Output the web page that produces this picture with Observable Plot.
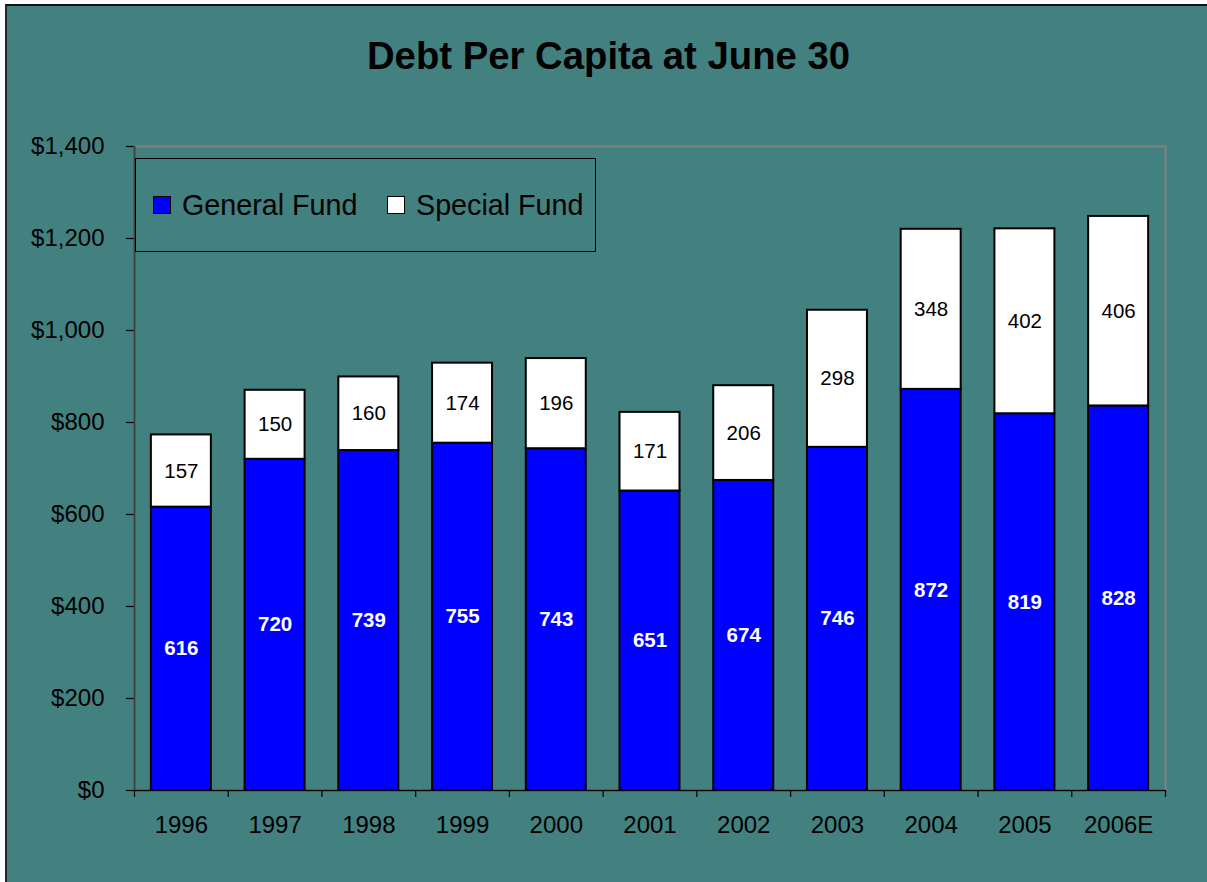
<!DOCTYPE html>
<html>
<head>
<meta charset="utf-8">
<script src="https://cdn.jsdelivr.net/npm/d3@7"></script>
<script src="https://cdn.jsdelivr.net/npm/@observablehq/plot@0.6"></script>
<style>
  html, body { margin: 0; padding: 0; background: #ffffff; }
  #wrap { position: relative; width: 1207px; height: 882px; overflow: hidden; font-family: "Liberation Sans", Arial, sans-serif; }
  #bg { position: absolute; left: 5px; top: 4px; width: 1210px; height: 876px; background: #438080;
        border-left: 2px solid #1e2a2a; border-top: 2px solid #111; border-bottom: 1px solid #6a7a7a; }
  #title { position: absolute; left: 0; width: 1217px; top: 37px; line-height: 1; text-align: center; font-weight: bold; font-size: 38.3px; color: #000; }
  #chart { position: absolute; left: 0; top: 0; }
  #legend { position: absolute; left: 135px; top: 158px; width: 461px; height: 94px; border: 1px solid #000; box-sizing: border-box; }
  .item { position: absolute; top: 0; height: 92px; font-size: 28.7px; color: #000; display: flex; align-items: center; }
  .sw { width: 16px; height: 16px; border: 1.5px solid #000; margin-right: 11px; }
</style>
</head>
<body>
<div id="wrap">
  <div id="bg"></div>
  <div id="chart"></div>
  <div id="title">Debt Per Capita at June 30</div>
  <div id="legend"></div>
</div>
<script>
const years = ["1996","1997","1998","1999","2000","2001","2002","2003","2004","2005","2006E"];
// bar heights as drawn
const generalFund = [616, 720, 739, 755, 743, 651, 674, 746, 872, 819, 836];
const specialFund = [157, 150, 160, 174, 196, 171, 206, 298, 348, 402, 412];
// value labels as printed
const generalLabels = ["616","720","739","755","743","651","674","746","872","819","828"];
const specialLabels = ["157","150","160","174","196","171","206","298","348","402","406"];
const seriesNames = ["General Fund", "Special Fund"];
const seriesColors = ["#0000ff", "#ffffff"];
const yTicks = [0, 200, 400, 600, 800, 1000, 1200, 1400];

const data = [];
years.forEach((y, i) => {
  data.push({year: y, series: seriesNames[0], value: generalFund[i], label: generalLabels[i]});
  data.push({year: y, series: seriesNames[1], value: specialFund[i], label: specialLabels[i]});
});

const W = 1207, H = 882, mL = 134, mR = 42, mT = 146, mB = 92;
const step = (W - mL - mR) / years.length;
const font = "'Liberation Sans', Arial, sans-serif";

const plot = Plot.plot({
  width: W, height: H,
  marginLeft: mL, marginRight: mR, marginTop: mT, marginBottom: mB,
  style: {background: "transparent", fontFamily: font, color: "#000", overflow: "visible"},
  x: {domain: years, paddingInner: 0.36, paddingOuter: 0.18, round: false, label: null},
  y: {domain: [0, 1400], label: null},
  color: {domain: seriesNames, range: seriesColors},
  marks: [
    Plot.frame({stroke: "#808080", strokeWidth: 2}),
    Plot.axisY({ticks: yTicks, tickFormat: d => "$" + d3.format(",")(d), tickSize: 8, tickPadding: 22, fontSize: 24, stroke: "#000", strokeWidth: 1.2, label: null}),
    Plot.axisX({tickSize: 0, tickPadding: 25, fontSize: 24, label: null}),
    Plot.barY(data, Plot.stackY({x: "year", y: "value", z: "series", fill: "series", stroke: "#000", strokeWidth: 2, order: seriesNames})),
    Plot.ruleX([years[0]], {x: d => d, dx: -step / 2, stroke: "#404040", strokeWidth: 2}),
    Plot.ruleY([0], {stroke: "#000", strokeWidth: 1.5}),
    Plot.ruleX(years, {x: d => d, dx: -step / 2, y1: 0, y2: -15, stroke: "#000", strokeWidth: 1.2}),
    Plot.ruleX([years[years.length - 1]], {x: d => d, dx: step / 2, y1: 0, y2: -15, stroke: "#000", strokeWidth: 1.2}),
    Plot.text(data, Plot.stackY({x: "year", y: "value", z: "series", order: seriesNames,
      text: d => d.series === seriesNames[0] ? d.label : "",
      fill: "#ffffff", fontWeight: "bold", fontSize: 20.5})),
    Plot.text(data, Plot.stackY({x: "year", y: "value", z: "series", order: seriesNames,
      text: d => d.series === seriesNames[1] ? d.label : "",
      fill: "#000000", fontSize: 20.5}))
  ]
});
document.getElementById("chart").appendChild(plot);

const legend = document.getElementById("legend");
const legendX = [17, 251];
seriesNames.forEach((name, i) => {
  const item = document.createElement("div");
  item.className = "item";
  item.style.left = legendX[i] + "px";
  const sw = document.createElement("div");
  sw.className = "sw";
  sw.style.background = seriesColors[i];
  item.appendChild(sw);
  item.appendChild(document.createTextNode(name));
  legend.appendChild(item);
});
</script>
</body>
</html>
